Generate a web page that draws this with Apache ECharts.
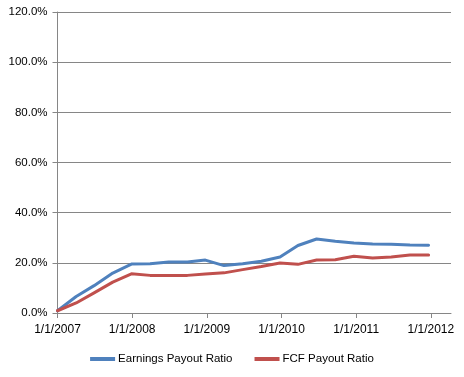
<!DOCTYPE html>
<html>
<head>
<meta charset="utf-8">
<script src="https://cdn.jsdelivr.net/npm/echarts@6/dist/echarts.min.js"></script>
<style>html,body{margin:0;padding:0;background:#fff}#c{width:464px;height:377px}</style>
</head>
<body>
<div id="c"></div>
<script>
// Quarterly observation times, in decimal years
var periods = [2007.00, 2007.25, 2007.49, 2007.74, 2007.99,
  2008.24, 2008.49, 2008.74, 2008.98, 2009.23,
  2009.48, 2009.73, 2009.98, 2010.22, 2010.47,
  2010.72, 2010.97, 2011.22, 2011.47, 2011.72, 2011.97];
var earningsPayout = [0.9, 6.6, 10.9, 15.9, 19.5, 19.6, 20.3, 20.3, 21.1, 18.9,
  19.6, 20.6, 22.3, 26.9, 29.5, 28.6, 27.9, 27.5, 27.4, 27.1, 27.0];
var fcfPayout = [0.9, 4.0, 8.0, 12.3, 15.6, 15.0, 15.0, 15.0, 15.5, 16.0,
  17.3, 18.5, 19.9, 19.4, 21.1, 21.2, 22.6, 21.9, 22.3, 23.1, 23.1];
var yearTicks = [2007, 2008, 2009, 2010, 2011, 2012];
var seriesNames = ['Earnings Payout Ratio', 'FCF Payout Ratio'];

function pairs(xs, ys) { return xs.map(function (x, i) { return [x, ys[i]]; }); }

var font = 'Liberation Sans';
var chart = echarts.init(document.getElementById('c'), null, { renderer: 'canvas' });
chart.setOption({
  animation: false,
  backgroundColor: '#ffffff',
  grid: { left: 57.5, right: 13, top: 12, bottom: 64, containLabel: false },
  legend: {
    bottom: 7, left: 'center',
    itemWidth: 25, itemHeight: 4, itemGap: 22,
    icon: 'rect',
    textStyle: { fontFamily: font, fontSize: 11.5, color: '#000', padding: [0, 0, 0, -2] },
    data: seriesNames
  },
  xAxis: {
    type: 'value', min: 2007, max: 2012.27, interval: 1,
    axisLine: { show: true, lineStyle: { color: '#868686', width: 1 } },
    axisTick: { show: true, length: 5, customValues: yearTicks, lineStyle: { color: '#868686' } },
    axisLabel: { customValues: yearTicks, fontFamily: font, fontSize: 12, color: '#000', margin: 11,
      formatter: function (v) { return '1/1/' + v; } },
    splitLine: { show: false }
  },
  yAxis: {
    type: 'value', min: 0, max: 120, interval: 20,
    axisLine: { show: true, lineStyle: { color: '#868686', width: 1 } },
    axisTick: { show: true, length: 5, lineStyle: { color: '#868686' } },
    axisLabel: { fontFamily: font, fontSize: 11.5, color: '#000', margin: 10,
      formatter: function (v) { return v.toFixed(1) + '%'; } },
    splitLine: { show: true, lineStyle: { color: '#868686', width: 1 } }
  },
  series: [
    { name: seriesNames[0], type: 'line', data: pairs(periods, earningsPayout), showSymbol: false, symbol: 'none',
      itemStyle: { color: '#4F81BD' }, lineStyle: { color: '#4F81BD', width: 3, join: 'round', cap: 'round' } },
    { name: seriesNames[1], type: 'line', data: pairs(periods, fcfPayout), showSymbol: false, symbol: 'none',
      itemStyle: { color: '#C0504D' }, lineStyle: { color: '#C0504D', width: 3, join: 'round', cap: 'round' } }
  ]
});
</script>
</body>
</html>
